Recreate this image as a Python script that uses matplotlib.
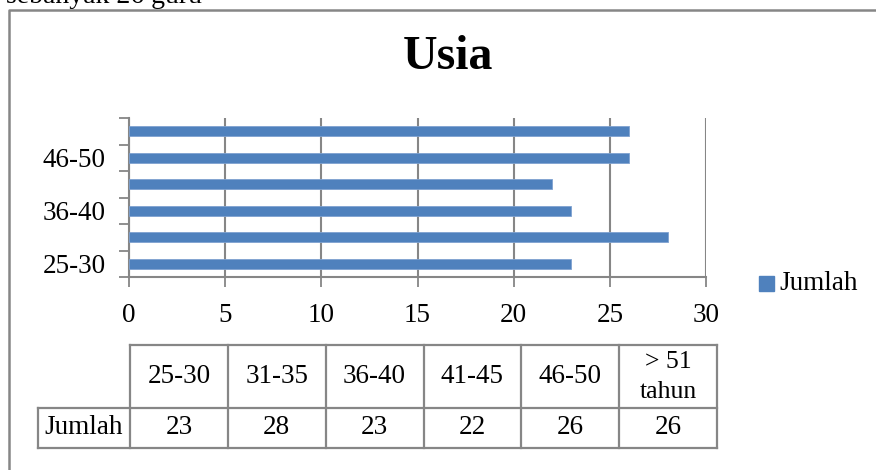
import numpy as np
import matplotlib.pyplot as plt
from matplotlib.patches import Rectangle

# data
categories = ["25-30", "31-35", "36-40", "41-45", "46-50", "> 51\ntahun"]
jumlah = [23, 28, 23, 22, 26, 26]
series_name = "Jumlah"
title = "Usia"
x_ticks = [0, 5, 10, 15, 20, 25, 30]

W, H = 876, 470
bar_color = "#4F81BD"
grid_color = "#868686"
fs = 19.5

plt.rcParams["font.family"] = ["Liberation Serif", "DejaVu Serif"]

fig = plt.figure(figsize=(W / 100, H / 100), dpi=100)


def px_rect(x0, y0, x1, y1):
    # pixel box (top-left origin) -> figure fraction rect
    return [x0 / W, (H - y1) / H, (x1 - x0) / W, (y1 - y0) / H]


# overlay for frame, title, table, legend (pixel coords)
ov = fig.add_axes([0, 0, 1, 1])
ov.set_xlim(0, W)
ov.set_ylim(H, 0)
ov.set_axis_off()

# document text above the chart, cut by the page edge as in the reference
ov.text(202, 3, "sebanyak 26 guru", ha="right", va="baseline",
        fontsize=20, color="black")

# chart frame (only left and top visible)
ov.plot([8.5, 8.5, W], [H, 9.5, 9.5], color=grid_color, lw=1.8,
        solid_capstyle="butt")

ov.text(448, 57, title, ha="center", va="center", fontsize=34.5,
        fontweight="bold")

# bar chart
ax = fig.add_axes(px_rect(129, 118, 706, 277))
y = np.arange(len(jumlah))
ax.barh(y, jumlah, height=0.38, color=bar_color, edgecolor="#7FA2D0",
        linewidth=0.6, zorder=3)
ax.set_xlim(0, 30)
ax.set_ylim(-0.5, len(jumlah) - 0.5)
ax.set_xticks(x_ticks)
ax.set_xticklabels([str(t) for t in x_ticks], fontsize=fs)
ax.set_yticks(y[::2])
ax.set_yticklabels(categories[::2], fontsize=fs)
ax.tick_params(axis="y", length=0, pad=17)
ax.tick_params(axis="x", length=7, width=1.3, color=grid_color, pad=12)
ax.set_yticks(np.arange(-0.5, len(jumlah), 1.0), minor=True)
ax.tick_params(axis="y", which="minor", length=7, width=1.3,
               color=grid_color)
ax.grid(axis="x", color=grid_color, lw=1.5, zorder=0)
for s in ["top", "right"]:
    ax.spines[s].set_visible(False)
for s in ["left", "bottom"]:
    ax.spines[s].set_color(grid_color)
    ax.spines[s].set_linewidth(1.5)
ax.set_facecolor("none")

# legend
ov.add_patch(Rectangle((759, 276), 15, 15, color=bar_color))
ov.text(779, 284, series_name, ha="left", va="center", fontsize=fs)

# data table
col_x = np.linspace(130, 717, len(categories) + 1)
top, mid, bot = 345, 408, 448
lab_x0 = 38
tkw = dict(color=grid_color, lw=1.6, solid_capstyle="projecting")
ov.plot([col_x[0], col_x[-1]], [top, top], **tkw)
ov.plot([lab_x0, col_x[-1]], [mid, mid], **tkw)
ov.plot([lab_x0, col_x[-1]], [bot, bot], **tkw)
ov.plot([lab_x0, lab_x0], [mid, bot], **tkw)
for cx in col_x:
    ov.plot([cx, cx], [top, bot], **tkw)

for i, (cat, val) in enumerate(zip(categories, jumlah)):
    xc = (col_x[i] + col_x[i + 1]) / 2
    if "\n" in cat:
        l1, l2 = cat.split("\n")
        ov.text(xc, 362, l1, ha="center", va="center", fontsize=fs - 1)
        ov.text(xc, 392, l2, ha="center", va="center", fontsize=fs - 1)
    else:
        ov.text(xc, (top + mid) / 2, cat, ha="center", va="center",
                fontsize=fs)
    ov.text(xc, (mid + bot) / 2, str(val), ha="center", va="center",
            fontsize=fs)
ov.text((lab_x0 + col_x[0]) / 2, (mid + bot) / 2, series_name,
        ha="center", va="center", fontsize=fs)

fig.savefig("out.png", dpi=100)
